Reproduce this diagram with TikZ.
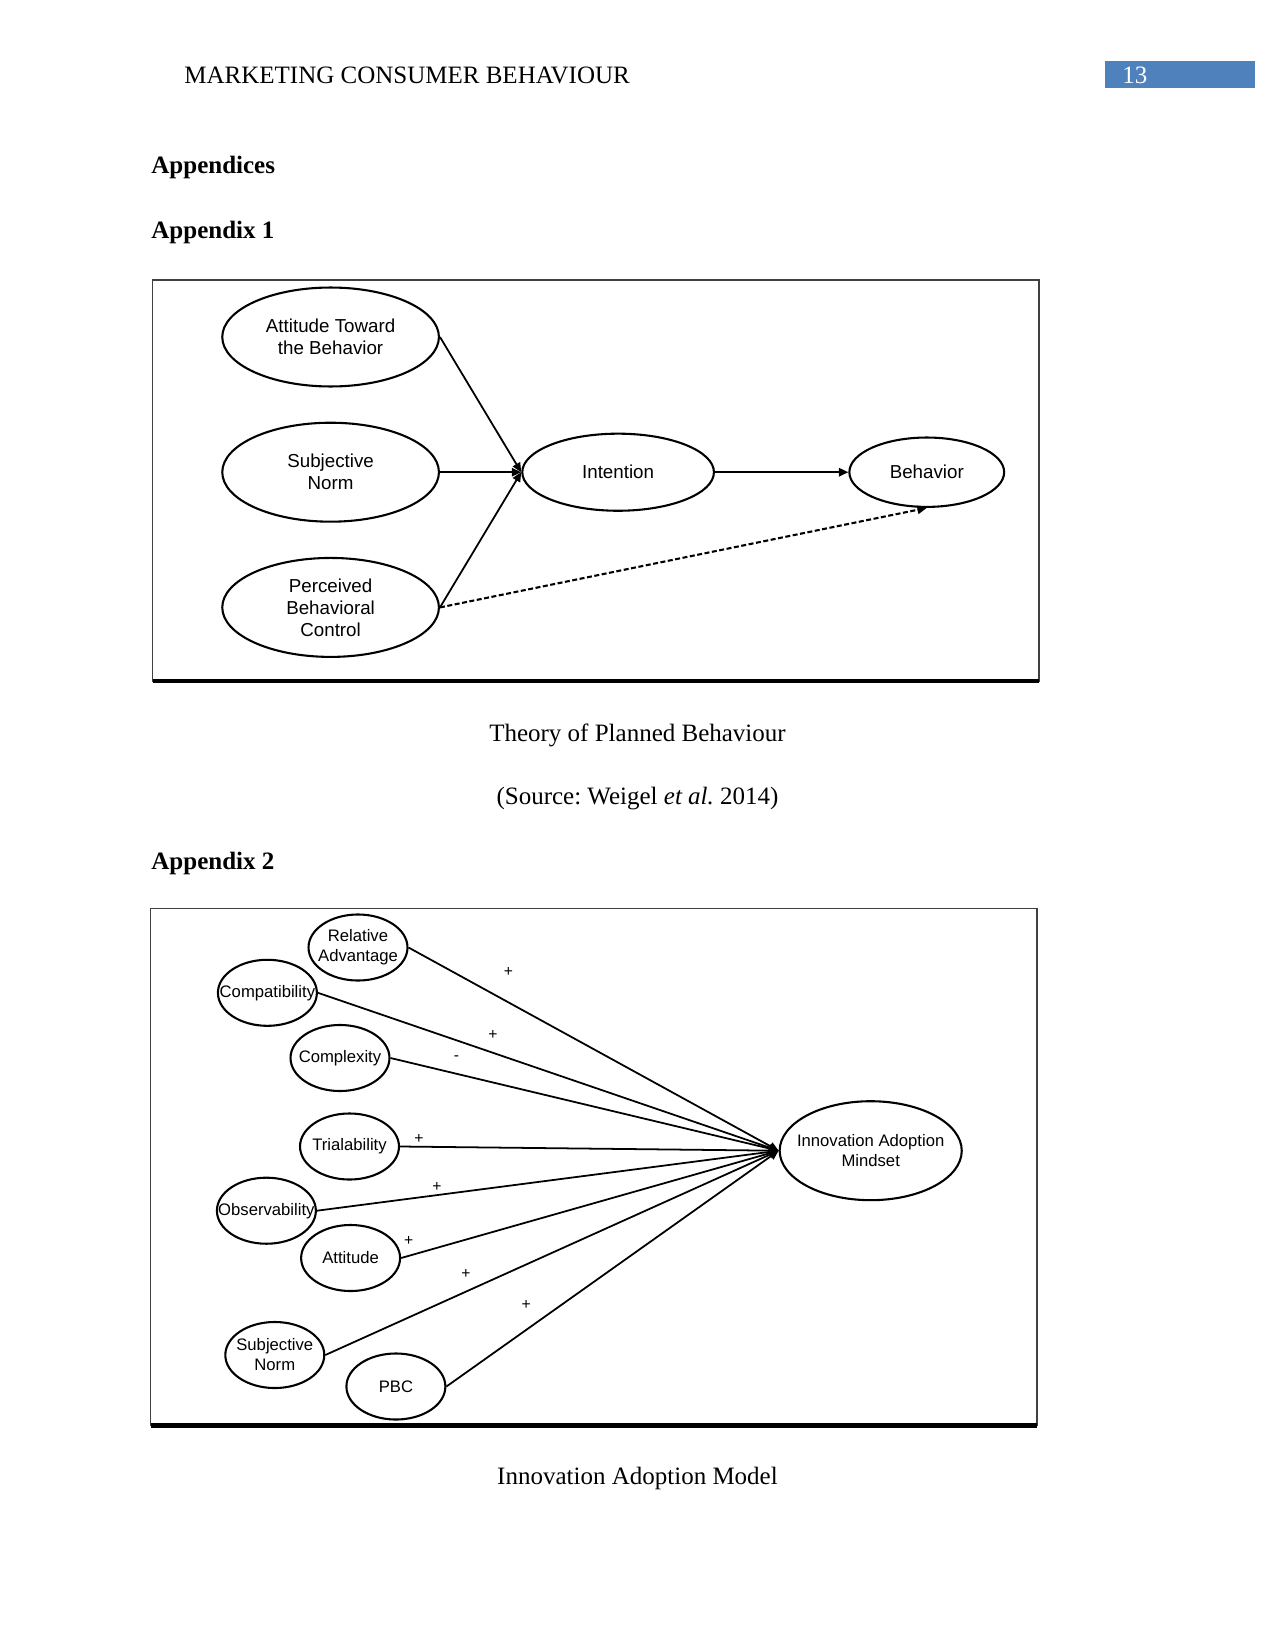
\documentclass[tikz,border=0pt]{standalone}
\usepackage{fontspec}
\setmainfont{Liberation Serif}
\newfontfamily\diagfont{Liberation Sans}
\usepackage{xcolor}
\usetikzlibrary{arrows.meta, positioning, shapes.geometric}
\definecolor{pagebar}{HTML}{4F81BD}
\frenchspacing
\tikzset{
    pagetext/.style={
        inner sep=0pt,
        font=\fontsize{12}{14}\selectfont
    },
    heading/.style={
        inner sep=0pt,
        anchor=base west,
        font=\fontsize{12}{14}\selectfont\bfseries
    },
    construct/.style={
        ellipse,
        draw=black,
        line width=1pt,
        align=center,
        inner sep=0pt,
        font=\diagfont\fontsize{9}{10.6}\selectfont
    },
    factor/.style={
        ellipse,
        draw=black,
        line width=1pt,
        inner sep=0pt,
        minimum width=47.5pt,
        minimum height=31.7pt
    },
    factorname/.style={
        align=center,
        inner sep=0pt,
        font=\diagfont\fontsize{8}{9.6}\selectfont
    },
    pathline/.style={
        -{Triangle[length=4.5pt, width=4pt]},
        line width=0.85pt
    },
    signlabel/.style={
        inner sep=0pt,
        font=\diagfont\fontsize{7.5}{8}\selectfont
    },
    figframe/.style={
        line width=0.6pt,
        draw=black!75
    }
}

\begin{document}
\begin{tikzpicture}[x=0.48pt, y=-0.48pt, node distance=16.4pt and 39pt]
    \useasboundingbox (0,0) rectangle (1275,1651);
    \fill[white] (0,0) rectangle (1275,1651);

    % running head
    \node[pagetext, anchor=base west] (runhead) at (184,84) {MARKETING CONSUMER BEHAVIOUR};
    \fill[pagebar] (1105,61) rectangle (1255,88);
    \node[pagetext, anchor=base west, text=white] (pagenum) at (1122,84) {13};

    \node[heading] (appendices) at (151,173.7) {Appendices};
    \node[heading] (appx1) at (151,238) {Appendix 1};

    % appendix 1: theory of planned behaviour
    \draw[figframe] (152.7,280) rectangle (1039,681);
    \draw[line width=2.2pt] (152.7,681) -- (1039,681);

    \node[construct, minimum width=104pt, minimum height=47.5pt] (attitude) at (330.6,337) {Attitude Toward\\the Behavior};
    \node[construct, minimum width=104pt, minimum height=47.5pt, below=of attitude] (subjnorm) {Subjective\\Norm};
    \node[construct, minimum width=104pt, minimum height=47.5pt, below=of subjnorm] (pbc) {Perceived\\Behavioral\\Control};
    \node[construct, minimum width=92pt, minimum height=37pt, right=of subjnorm] (intention) {Intention};
    \node[construct, minimum width=74.3pt, minimum height=33.3pt, right=64pt of intention] (behavior) {Behavior};

    \draw[pathline] (attitude.east) -- (intention.west);
    \draw[pathline] (subjnorm) -- (intention);
    \draw[pathline] (pbc.east) -- (intention.west);
    \draw[pathline] (intention) -- (behavior);
    \draw[pathline, line width=1pt, dash pattern=on 2.4pt off 1.2pt] (pbc.east) -- (behavior.south);

    \node[pagetext, anchor=base] (cap1) at (637.5,741) {Theory of Planned Behaviour};
    \node[pagetext, anchor=base] (source1) at (637.5,804) {(Source: Weigel \textit{et al.} 2014)};

    \node[heading] (appx2) at (151,869.6) {Appendix 2};

    % appendix 2: innovation adoption model
    \draw[figframe] (150.5,908.6) rectangle (1037,1425.5);
    \draw[line width=2.2pt] (150.5,1425.5) -- (1037,1425.5);

    \node[factor, label={[factorname]center:Relative\\Advantage}] (reladv) at (358,947.5) {};
    \node[factor, label={[factorname]center:Compatibility}] (compat) at (267.4,992.8) {};
    \node[factor, label={[factorname]center:Complexity}] (complex) at (340,1058) {};
    \node[factor, label={[factorname]center:Trialability}] (trial) at (349.5,1146.5) {};
    \node[factor, label={[factorname]center:Observability}] (observ) at (266.4,1210.7) {};
    \node[factor, label={[factorname]center:Attitude}] (attit) at (350.6,1258) {};
    \node[factor, label={[factorname]center:Subjective\\Norm}] (subj) at (274.8,1355) {};
    \node[factor, label={[factorname]center:PBC}] (ctrl) at (395.9,1386.5) {};
    \node[factor, minimum width=87.4pt, minimum height=47.5pt, label={[factorname]center:Innovation Adoption\\Mindset}] (mindset) at (870.7,1150.7) {};

    \draw[pathline] (reladv.east) -- node[signlabel, pos=0.27, yshift=14.8pt] (sgnreladv) {+} (mindset.west);
    \draw[pathline] (compat.east) -- node[signlabel, pos=0.38, yshift=8.4pt] (sgncompat) {+} (mindset.west);
    \draw[pathline] (complex.east) -- node[signlabel, pos=0.17, yshift=7.6pt] (sgncomplex) {-} (mindset.west);
    \draw[pathline] (trial.east) -- node[signlabel, pos=0.05, yshift=3.6pt] (sgntrial) {+} (mindset.west);
    \draw[pathline] (observ.east) -- node[signlabel, pos=0.26, yshift=4pt] (sgnobserv) {+} (mindset.west);
    \draw[pathline] (attit.east) -- node[signlabel, pos=0.02, yshift=7pt] (sgnattit) {+} (mindset.west);
    \draw[pathline] (subj.east) -- node[signlabel, pos=0.31, yshift=8.6pt] (sgnsubj) {+} (mindset.west);
    \draw[pathline] (ctrl.east) -- node[signlabel, pos=0.24, yshift=12.2pt] (sgnctrl) {+} (mindset.west);

    \node[pagetext, anchor=base] (cap2) at (637.5,1484.5) {Innovation Adoption Model};
\end{tikzpicture}
\end{document}
